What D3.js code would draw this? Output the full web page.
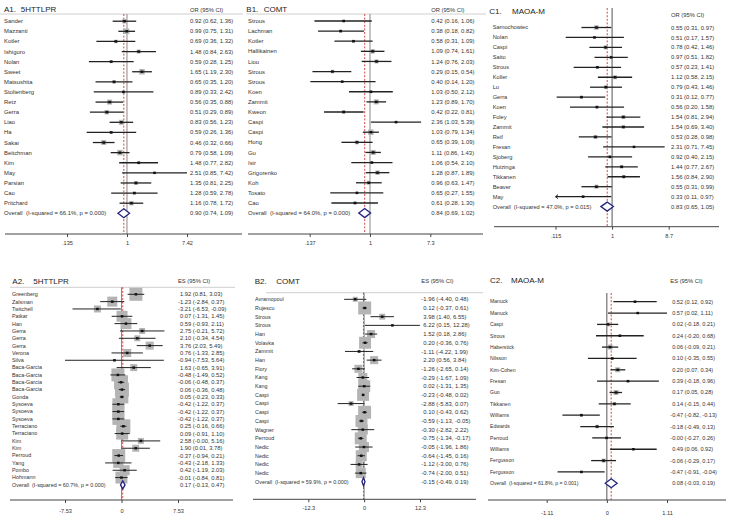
<!DOCTYPE html>
<html><head><meta charset="utf-8">
<script src="https://cdn.jsdelivr.net/npm/d3@7"></script>
<style>
body{margin:0;background:#fff}
svg{display:block}
text{font-family:"Liberation Sans",Arial,sans-serif;fill:#333;white-space:pre}
</style>
</head><body>
<svg id="c" width="729" height="518"></svg>
<script>
// ---------------- DATA ----------------
// A1. 5HTTLPR (OR)
const a1Studies = ["Sander","Mazzanti","Kotler","Ishiguro","Nolan","Sweet","Matsushita","Stoltenberg","Retz","Gerra","Liao","Ha","Sakai","Beitchman","Kim","May","Parsian","Cao","Pritchard"];
const a1Est = [0.92,0.99,0.69,1.48,0.59,1.65,0.65,0.89,0.56,0.51,0.83,0.59,0.46,0.79,1.48,2.51,1.35,1.28,1.16];
const a1Lo  = [0.62,0.75,0.36,0.84,0.28,1.19,0.35,0.33,0.35,0.29,0.56,0.26,0.32,0.58,0.77,0.85,0.81,0.59,0.78];
const a1Hi  = [1.36,1.31,1.32,2.63,1.25,2.30,1.20,2.42,0.88,0.89,1.23,1.36,0.66,1.09,2.82,7.42,2.25,2.78,1.72];
const a1Weight = [6.3,9.3,3.8,4.9,2.8,9.3,3.8,1.9,7.7,6.3,7.7,2.8,7.7,9.3,2.8,1.2,4.9,2.8,6.3];
const a1Overall = [0.90,0.74,1.09];
const a1OverallLabel = "Overall  (I-squared = 66.1%, p = 0.000)";
const a1Ticks = [0.135,1,7.42];
const a1TickLabels = [".135","1","7.42"];

// B1. COMT (OR)
const b1Studies = ["Strous","Lachman","Kotler","Hallikainen","Liou","Strous","Strous","Koen","Zammit","Kweon","Caspi","Caspi","Hong","Gu","Isir","Grigorenko","Koh","Tosato","Cao"];
const b1Est = [0.42,0.38,0.58,1.09,1.24,0.29,0.40,1.03,1.23,0.42,2.36,1.03,0.65,1.11,1.06,1.28,0.96,0.65,0.61];
const b1Lo  = [0.16,0.18,0.31,0.74,0.76,0.15,0.14,0.50,0.89,0.22,1.03,0.79,0.39,0.86,0.54,0.87,0.63,0.27,0.28];
const b1Hi  = [1.06,0.82,1.09,1.61,2.03,0.54,1.20,2.12,1.70,0.81,5.39,1.34,1.09,1.43,2.10,1.89,1.47,1.55,1.30];
const b1Weight = [1.9,2.8,2.8,6.3,4.9,3.8,1.9,2.8,7.7,3.8,1.9,9.3,4.9,7.7,2.8,6.3,4.9,1.9,2.8];
const b1Overall = [0.84,0.69,1.02];
const b1OverallLabel = "Overall  (I-squared = 64.0%, p = 0.000)";
const b1Ticks = [0.137,1,7.3];
const b1TickLabels = [".137","1","7.3"];

// C1. MAOA-M (OR)
const c1Studies = ["Samochowiec","Nolan","Caspi","Saito","Strous","Koller","Lu","Gerra","Koen","Foley","Zammit","Reif","Fresan","Sjoberg","Huizinga","Tikkanen","Beaver","May"];
const c1Est = [0.55,0.51,0.78,0.97,0.57,1.12,0.79,0.31,0.56,1.54,1.54,0.53,2.31,0.92,1.44,1.56,0.55,0.33];
const c1Lo  = [0.31,0.17,0.42,0.51,0.23,0.58,0.43,0.12,0.20,0.81,0.69,0.28,0.71,0.40,0.77,0.84,0.31,0.11];
const c1Hi  = [0.97,1.57,1.46,1.82,1.41,2.15,1.46,0.77,1.58,2.94,3.40,0.98,7.45,2.15,2.67,2.90,0.99,0.97];
const c1Weight = [6.3,1.9,4.9,3.8,2.8,4.9,4.9,2.8,2.8,4.9,3.8,4.9,1.2,2.8,3.8,3.8,4.9,1.9];
const c1Overall = [0.83,0.65,1.05];
const c1OverallLabel = "Overall  (I-squared = 47.0%, p = 0.015)";
const c1Ticks = [0.115,1,8.7];
const c1TickLabels = [".115","1","8.7"];

// A2. 5HTTLPR (ES)
const a2Studies = ["Greenberg","Zalsman","Twitchell","Patkar","Han","Gerra","Gerra","Gerra","Verona","Silva","Baca-Garcia","Baca-Garcia","Baca-Garcia","Baca-Garcia","Gonda","Sysoeva","Sysoeva","Sysoeva","Terraciano","Terraciano","Kim","Kim","Perroud","Yang","Pombo","Hohmann"];
const a2Est = [1.92,-1.23,-3.21,0.07,0.59,2.75,2.10,3.76,0.76,-0.94,1.63,-0.48,-0.06,0.06,0.05,-0.42,-0.42,-0.42,0.25,0.09,2.58,1.90,-0.37,-0.43,0.42,-0.01];
const a2Lo  = [0.81,-2.84,-6.53,-1.31,-0.93,-0.21,-0.34,2.03,-1.33,-7.53,-0.65,-1.49,-0.48,-0.36,-0.23,-1.22,-1.22,-1.22,-0.16,-0.91,-0.004,0.01,-0.94,-2.18,-1.19,-0.84];
const a2Hi  = [3.03,0.37,-0.09,1.45,2.11,5.72,4.54,5.49,2.85,5.64,3.91,0.52,0.37,0.48,0.33,0.37,0.37,0.37,0.66,1.10,5.16,3.78,0.21,1.33,2.03,0.81];
const a2Weight = [52,31,15,37,37,11,11,20,20,1.2,15,52,60,60,52,44,44,44,60,44,11,15,52,31,31,44];
const a2Overall = [0.17,-0.13,0.47];
const a2OverallLabel = "Overall  (I-squared = 60.7%, p = 0.000)";
const a2Ticks = [-7.53,0,7.53];
const a2TickLabels = ["-7.53","0","7.53"];

// B2. COMT (ES)
const b2Studies = ["Avramopoul","Rujescu","Strous","Strous","Han","Volavka","Zammit","Han","Flory","Kang","Kang","Caspi","Caspi","Caspi","Caspi","Wagner","Perroud","Nedic","Nedic","Nedic","Nedic"];
const b2Est = [-1.96,0.12,3.98,6.22,1.52,0.20,-1.11,2.20,-1.26,-0.29,0.02,-0.23,-2.88,0.10,-0.59,-0.30,-0.75,-0.05,-0.64,-1.12,-0.74];
const b2Lo  = [-4.40,-0.37,1.40,0.15,0.18,-0.36,-4.22,0.56,-2.65,-1.67,-1.31,-0.48,-5.83,-0.43,-1.13,-2.82,-1.34,-1.96,-1.45,-3.00,-2.00];
const b2Hi  = [0.48,0.61,6.55,12.28,2.86,0.76,1.99,3.84,0.14,1.09,1.35,0.02,0.07,0.62,-0.05,2.22,-0.17,1.86,0.16,0.76,0.51];
const b2Weight = [7.7,52,11,1.2,20,44,2.8,20,20,25,44,44,7.7,52,44,31,44,31,37,15,31];
const b2Overall = [-0.15,-0.49,0.19];
const b2OverallLabel = "Overall  (I-squared = 59.9%, p = 0.000)";
const b2Ticks = [-12.3,0,12.3];
const b2TickLabels = ["-12.3","0","12.3"];

// C2. MAOA-M (ES)
const c2Studies = ["Manuck","Manuck","Caspi","Strous","Haberstick","Nilsson","Kim-Cohen","Fresan","Guo","Tikkanen","Williams","Edwards","Perroud","Williams","Fergusson","Fergusson"];
const c2Est = [0.52,0.57,0.02,0.24,0.06,0.10,0.20,0.39,0.17,0.14,-0.47,-0.18,-0.004,0.49,-0.06,-0.47];
const c2Lo  = [0.12,0.02,-0.18,-0.20,-0.09,-0.35,0.07,-0.18,0.05,-0.15,-0.82,-0.49,-0.27,0.06,-0.29,-0.91];
const c2Hi  = [0.92,1.11,0.21,0.68,0.21,0.55,0.34,0.96,0.28,0.44,-0.13,0.13,0.26,0.92,0.17,-0.04];
const c2Weight = [1.9,1.2,4.9,1.9,7.7,1.9,7.7,1.9,7.7,3.8,2.8,3.8,2.8,1.2,4.9,1.9];
const c2Overall = [0.08,-0.03,0.19];
const c2OverallLabel = "Overall  (I-squared = 61.8%, p = 0.001)";
const c2Ticks = [-1.11,0,1.11];
const c2TickLabels = ["-1.11","0","1.11"];

// ---------------- PANELS ----------------
const panels = [
  {code:"A1.", gene:"5HTTLPR", header:"OR (95% CI)", log:true, nullValue:1, studies:a1Studies, est:a1Est, lo:a1Lo, hi:a1Hi, weight:a1Weight, overall:a1Overall, overallLabel:a1OverallLabel, ticks:a1Ticks, tickLabels:a1TickLabels,
   L:{titleX:[4,20.7], titleY:11.5, headerX:190, headerY:11.5, sep:[0,243,14], labelX:4, valueX:190, rows:[21.2,213.3], tickRange:[67,187], axisY:234, axisX:[5,242], nullTop:14, tickPad:3.9, labelFont:5.9, valueFont:5.9, boxK:1.8, diamondH:9, ciW:1.3, nullColor:"#888"}},
  {code:"B1.", gene:"COMT", header:"OR (95% CI)", log:true, nullValue:1, studies:b1Studies, est:b1Est, lo:b1Lo, hi:b1Hi, weight:b1Weight, overall:b1Overall, overallLabel:b1OverallLabel, ticks:b1Ticks, tickLabels:b1TickLabels,
   L:{titleX:[246.3,263.7], titleY:11.5, headerX:431.3, headerY:11.5, sep:[246,486,14], labelX:248, valueX:431.3, rows:[21,213.1], tickRange:[309.7,430.3], axisY:234, axisX:[248,483], nullTop:14, tickPad:3.9, labelFont:5.9, valueFont:5.9, boxK:1.8, diamondH:9, ciW:1.3, nullColor:"#888"}},
  {code:"C1.", gene:"MAOA-M", header:"OR (95% CI)", log:true, nullValue:1, studies:c1Studies, est:c1Est, lo:c1Lo, hi:c1Hi, weight:c1Weight, overall:c1Overall, overallLabel:c1OverallLabel, ticks:c1Ticks, tickLabels:c1TickLabels,
   L:{titleX:[489.3,512], titleY:14, headerX:671, headerY:16.5, sep:null, labelX:492.7, valueX:671, rows:[27.5,206.6], tickRange:[555.5,668.7], axisY:226.7, axisX:[494,719], nullTop:8, tickPad:4.2, labelFont:5.7, valueFont:5.9, boxK:1.8, diamondH:9, ciW:1.3, nullColor:"#555"}},
  {code:"A2.", gene:"5HTTLPR", header:"ES (95% CI)", log:false, nullValue:0, studies:a2Studies, est:a2Est, lo:a2Lo, hi:a2Hi, weight:a2Weight, overall:a2Overall, overallLabel:a2OverallLabel, ticks:a2Ticks, tickLabels:a2TickLabels,
   L:{titleX:[12.3,33.3], titleY:283.5, headerX:178, headerY:283.3, sep:[10,235,287.3], labelX:12, valueX:178, rows:[294.3,484.9], tickRange:[65,178], axisY:500, axisX:[10,233], nullTop:287.3, tickPad:5.9, labelFont:5.4, valueFont:5.8, boxK:1.8, diamondH:8, ciW:1, nullColor:"#888"}},
  {code:"B2.", gene:"COMT", header:"ES (95% CI)", log:false, nullValue:0, studies:b2Studies, est:b2Est, lo:b2Lo, hi:b2Hi, weight:b2Weight, overall:b2Overall, overallLabel:b2OverallLabel, ticks:b2Ticks, tickLabels:b2TickLabels,
   L:{titleX:[254.7,276.3], titleY:284, headerX:421.3, headerY:283, sep:[266,483,292.7], labelX:255, valueX:421.3, rows:[299.3,481.8], tickRange:[308.3,420], axisY:499.3, axisX:[253,476], nullTop:292.7, tickPad:3.6, labelFont:5.4, valueFont:5.9, boxK:1.8, diamondH:8, ciW:1, nullColor:"#888"}},
  {code:"C2.", gene:"MAOA-M", header:"ES (95% CI)", log:false, nullValue:0, studies:c2Studies, est:c2Est, lo:c2Lo, hi:c2Hi, weight:c2Weight, overall:c2Overall, overallLabel:c2OverallLabel, ticks:c2Ticks, tickLabels:c2TickLabels,
   L:{titleX:[490,511], titleY:283.2, headerX:670.3, headerY:283, sep:null, labelX:490, valueX:670.3, rows:[301.7,483.3], tickRange:[546.7,667], axisY:500, axisX:[488,726], nullTop:293, tickPad:8.5, labelFont:5.1, valueFont:5.6, boxK:1.8, diamondH:9, ciW:1.3, nullColor:"#555"}}
];

const svg = d3.select("#c");
const fmt = v => v.toFixed(2);

function drawPanel(d) {
  const L = d.L;
  const g = svg.append("g");
  const n = d.studies.length;
  const y = d3.scalePoint().domain(d3.range(n + 1)).range(L.rows);
  const x = (d.log ? d3.scaleLog() : d3.scaleLinear()).domain([d.ticks[0], d.ticks[2]]).range(L.tickRange);
  const xmin = d.ticks[0], xmax = d.ticks[2];

  // header separator
  if (L.sep) {
    g.append("line").attr("x1", L.sep[0]).attr("x2", L.sep[1]).attr("y1", L.sep[2]).attr("y2", L.sep[2])
      .attr("stroke", "#cfcfcf").attr("stroke-width", 1);
  }
  // titles
  g.append("text").attr("x", L.titleX[0]).attr("y", L.titleY).attr("font-size", 8).style("fill", "#222").text(d.code);
  g.append("text").attr("x", L.titleX[1]).attr("y", L.titleY).attr("font-size", 8).style("fill", "#222").text(d.gene);
  g.append("text").attr("x", L.headerX).attr("y", L.headerY).attr("font-size", 5.8).text(d.header);

  // null line and overall dashed line
  g.append("line").attr("x1", x(d.nullValue)).attr("x2", x(d.nullValue)).attr("y1", L.nullTop).attr("y2", L.axisY)
    .attr("stroke", L.nullColor).attr("stroke-width", 1);
  g.append("line").attr("x1", x(d.overall[0])).attr("x2", x(d.overall[0])).attr("y1", L.nullTop).attr("y2", L.axisY)
    .attr("stroke", "#cc3333").attr("stroke-width", 0.9).attr("stroke-dasharray", "2,1.6");

  const rows = d3.range(n).map(i => ({i, name: d.studies[i], es: d.est[i], lo: d.lo[i], hi: d.hi[i], w: d.weight[i]}));

  // weight boxes
  g.selectAll("rect.box").data(rows).join("rect").attr("class", "box")
    .attr("x", r => x(r.es) - L.boxK * Math.sqrt(r.w) / 2)
    .attr("y", r => y(r.i) - L.boxK * Math.sqrt(r.w) / 2)
    .attr("width", r => L.boxK * Math.sqrt(r.w))
    .attr("height", r => L.boxK * Math.sqrt(r.w))
    .attr("fill", "#b4b4b4");

  // CI lines (clipped to axis range)
  g.selectAll("line.ci").data(rows).join("line").attr("class", "ci")
    .attr("x1", r => x(Math.max(r.lo, xmin))).attr("x2", r => x(Math.min(r.hi, xmax)))
    .attr("y1", r => y(r.i)).attr("y2", r => y(r.i))
    .attr("stroke", "#222").attr("stroke-width", L.ciW);
  // arrows for clipped CIs
  g.selectAll("path.arrL").data(rows.filter(r => r.lo < xmin)).join("path").attr("class", "arrL")
    .attr("d", r => { const a = x(xmin), b = y(r.i); return `M${a + 2.5},${b - 2}L${a},${b}L${a + 2.5},${b + 2}`; })
    .attr("fill", "none").attr("stroke", "#222").attr("stroke-width", 1);
  g.selectAll("path.arrR").data(rows.filter(r => r.hi > xmax)).join("path").attr("class", "arrR")
    .attr("d", r => { const a = x(xmax), b = y(r.i); return `M${a - 2.5},${b - 2}L${a},${b}L${a - 2.5},${b + 2}`; })
    .attr("fill", "none").attr("stroke", "#222").attr("stroke-width", 1);

  // point markers
  g.selectAll("rect.pt").data(rows).join("rect").attr("class", "pt")
    .attr("x", r => x(r.es) - 1.3).attr("y", r => y(r.i) - 1.2)
    .attr("width", 2.6).attr("height", 2.4).attr("fill", "#111");

  // study labels
  g.selectAll("text.lab").data(rows).join("text").attr("class", "lab")
    .attr("x", L.labelX).attr("y", r => y(r.i)).attr("dy", "0.35em")
    .attr("font-size", L.labelFont).text(r => r.name);
  // value labels
  const valStr = (es, lo, hi) => `${fmt(es)} (${fmt(lo)}, ${fmt(hi)})`;
  const shift = (s, fs) => (s.startsWith("-") ? 0 : 0.333 * fs);
  g.selectAll("text.val").data(rows).join("text").attr("class", "val")
    .attr("x", r => L.valueX + (d.log ? 0 : shift(fmt(r.es), L.valueFont)))
    .attr("y", r => y(r.i)).attr("dy", "0.35em")
    .attr("font-size", L.valueFont).text(r => valStr(r.es, r.lo, r.hi));

  // overall row
  const yo = y(n);
  g.append("text").attr("x", L.labelX).attr("y", yo).attr("dy", "0.35em").attr("font-size", L.labelFont).text(d.overallLabel);
  g.append("text").attr("x", L.valueX + (d.log ? 0 : shift(fmt(d.overall[0]), L.valueFont))).attr("y", yo).attr("dy", "0.35em")
    .attr("font-size", L.valueFont).text(valStr(d.overall[0], d.overall[1], d.overall[2]));
  const h = L.diamondH / 2;
  g.append("path")
    .attr("d", `M${x(d.overall[1])},${yo}L${x(d.overall[0])},${yo - h}L${x(d.overall[2])},${yo}L${x(d.overall[0])},${yo + h}Z`)
    .attr("fill", "#fff").attr("stroke", "#23237d").attr("stroke-width", 1.3);

  // axis
  g.append("line").attr("x1", L.axisX[0]).attr("x2", L.axisX[1]).attr("y1", L.axisY).attr("y2", L.axisY)
    .attr("stroke", "#444").attr("stroke-width", 1);
  const axis = d3.axisBottom(x).tickValues(d.ticks).tickFormat((v, i) => d.tickLabels[i]).tickSize(3).tickPadding(L.tickPad);
  const ag = g.append("g").attr("transform", `translate(0,${L.axisY})`).call(axis);
  ag.attr("font-size", null).attr("font-family", null);
  ag.select(".domain").remove();
  ag.selectAll(".tick line").attr("stroke", "#444");
  ag.selectAll(".tick text").attr("font-size", 5.6).style("fill", "#333");
}

panels.forEach(drawPanel);
</script>
</body></html>
